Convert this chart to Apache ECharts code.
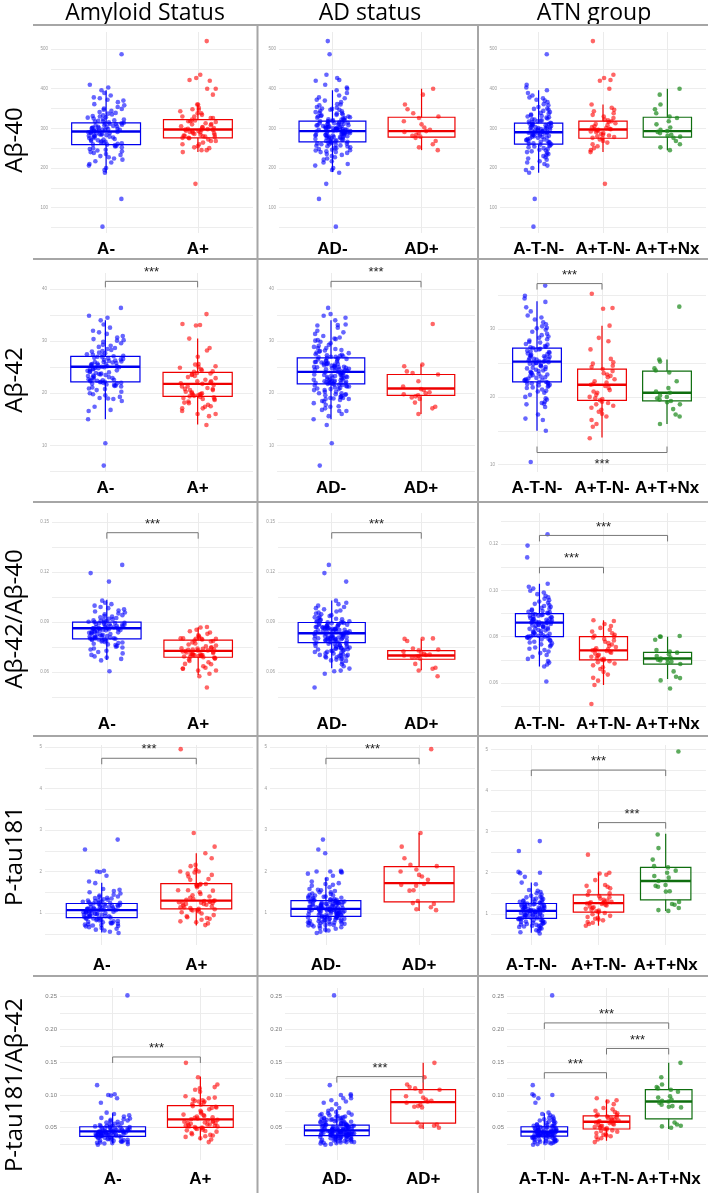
<!DOCTYPE html>
<html><head><meta charset="utf-8">
<script src="https://cdn.jsdelivr.net/npm/echarts@6/dist/echarts.min.js"></script>
<style>html,body{margin:0;padding:0;background:#fff}#c{width:708px;height:1193px}</style>
</head><body><div id="c"></div>
<script>
// ================= DATA =================
const columnTitles = ['Amyloid Status', 'AD status', 'ATN group'];
const rowTitles = ['Aβ-40', 'Aβ-42', 'Aβ-42/Aβ-40', 'P-tau181', 'P-tau181/Aβ-42'];
const amyloidCats = ['A-', 'A+'];
const adCats = ['AD-', 'AD+'];
const atnCats = ['A-T-N-', 'A+T-N-', 'A+T+Nx'];

// ---- Aβ-40 values per ATN group ----
const ab40_ATNneg = [487, 410, 403, 396, 389, 383, 378, 376, 372, 370, 366, 361, 358, 354, 350, 349, 347, 344, 341, 339, 337, 335, 333, 331, 330, 328, 327, 325, 323, 322, 320, 319, 318, 317, 315, 314, 313, 312, 311, 311, 309, 308, 307, 306, 305, 304, 303, 302, 301, 301, 300, 299, 298, 297, 296, 296, 295, 294, 293, 292, 292, 291, 290, 289, 289, 288, 287, 286, 285, 284, 283, 282, 281, 280, 279, 278, 277, 276, 275, 273, 272, 271, 270, 268, 267, 266, 265, 264, 262, 261, 260, 259, 257, 256, 254, 252, 250, 248, 246, 244, 242, 240, 238, 235, 233, 230, 227, 224, 221, 217, 214, 210, 206, 200, 195, 188, 122, 52];
const ab40_ApTnNn = [520, 435, 427, 422, 420, 400, 360, 352, 347, 343, 338, 334, 330, 326, 322, 320, 318, 316, 313, 311, 308, 305, 303, 301, 299, 298, 297, 296, 294, 292, 290, 288, 286, 284, 282, 280, 278, 276, 275, 272, 268, 264, 260, 255, 250, 245, 240, 160];
const ab40_ApTpNx = [400, 385, 360, 348, 338, 330, 326, 318, 310, 302, 296, 293, 291, 288, 284, 281, 279, 276, 268, 260, 252, 245];
const ab40_other = [];

// ---- Aβ-42 ----
const ab42_ATNneg = [36.4, 34.9, 34.5, 34.0, 33.2, 32.6, 32.0, 31.7, 31.4, 31.0, 30.7, 30.4, 30.2, 30.1, 29.9, 29.6, 29.3, 29.1, 28.9, 28.7, 28.5, 28.3, 28.1, 28.0, 27.8, 27.7, 27.5, 27.4, 27.3, 27.2, 27.1, 27.0, 26.9, 26.8, 26.7, 26.6, 26.5, 26.4, 26.3, 26.2, 26.1, 26.0, 26.0, 25.9, 25.8, 25.7, 25.6, 25.6, 25.5, 25.4, 25.3, 25.2, 25.2, 25.1, 25.0, 25.0, 24.9, 24.8, 24.7, 24.6, 24.5, 24.4, 24.3, 24.2, 24.1, 24.0, 23.9, 23.8, 23.7, 23.6, 23.5, 23.4, 23.3, 23.2, 23.1, 23.0, 22.9, 22.8, 22.7, 22.6, 22.5, 22.5, 22.4, 22.3, 22.2, 22.2, 22.1, 22.0, 22.0, 21.9, 21.8, 21.7, 21.6, 21.5, 21.4, 21.3, 21.1, 20.9, 20.8, 20.6, 20.3, 20.0, 19.8, 19.6, 19.3, 19.1, 19.0, 18.9, 18.5, 17.4, 16.8, 16.6, 15.0, 10.4];
const ab42_ApTnNn = [35.2, 33.1, 33.0, 30.5, 28.7, 28.2, 27.0, 25.6, 25.1, 24.9, 24.6, 24.4, 24.1, 23.8, 23.5, 23.3, 23.1, 22.9, 22.6, 22.3, 22.1, 21.9, 21.8, 21.6, 21.3, 21.0, 20.8, 20.6, 20.3, 20.0, 19.8, 19.7, 19.5, 19.3, 19.1, 18.9, 18.7, 18.4, 18.1, 17.8, 17.5, 17.1, 16.6, 16.0, 15.6, 13.9];
const ab42_ApTpNx = [33.3, 25.5, 25.2, 24.2, 23.9, 23.6, 22.3, 21.3, 20.8, 20.6, 20.2, 20.0, 19.8, 19.6, 19.4, 19.2, 18.9, 18.2, 17.4, 17.1, 16.0];
const ab42_other = [6.1];

// ---- Aβ-42/Aβ-40 ----
const ratio_ATNneg = [0.1243, 0.1194, 0.1143, 0.1029, 0.1016, 0.1008, 0.0999, 0.0991, 0.0984, 0.0977, 0.0970, 0.0964, 0.0958, 0.0952, 0.0947, 0.0942, 0.0937, 0.0933, 0.0929, 0.0925, 0.0921, 0.0917, 0.0914, 0.0911, 0.0908, 0.0905, 0.0903, 0.0901, 0.0899, 0.0897, 0.0895, 0.0893, 0.0891, 0.0889, 0.0887, 0.0885, 0.0883, 0.0881, 0.0879, 0.0877, 0.0875, 0.0873, 0.0871, 0.0869, 0.0867, 0.0865, 0.0864, 0.0863, 0.0862, 0.0861, 0.0860, 0.0858, 0.0857, 0.0855, 0.0853, 0.0851, 0.0849, 0.0847, 0.0845, 0.0843, 0.0841, 0.0839, 0.0836, 0.0834, 0.0832, 0.0829, 0.0827, 0.0824, 0.0822, 0.0819, 0.0817, 0.0814, 0.0812, 0.0810, 0.0808, 0.0806, 0.0804, 0.0803, 0.0802, 0.0801, 0.0800, 0.0798, 0.0796, 0.0793, 0.0791, 0.0788, 0.0785, 0.0782, 0.0778, 0.0775, 0.0771, 0.0767, 0.0763, 0.0758, 0.0753, 0.0748, 0.0742, 0.0736, 0.0729, 0.0721, 0.0713, 0.0704, 0.0695, 0.0688, 0.0680, 0.0671, 0.0606];
const ratio_ApTnNn = [0.0871, 0.0868, 0.0855, 0.0846, 0.0838, 0.0830, 0.0822, 0.0815, 0.0808, 0.0804, 0.0800, 0.0796, 0.0790, 0.0784, 0.0778, 0.0772, 0.0766, 0.0760, 0.0755, 0.0750, 0.0746, 0.0743, 0.0741, 0.0738, 0.0735, 0.0731, 0.0727, 0.0722, 0.0718, 0.0713, 0.0708, 0.0704, 0.0701, 0.0698, 0.0694, 0.0690, 0.0684, 0.0676, 0.0668, 0.0660, 0.0648, 0.0636, 0.0622, 0.0610, 0.0591, 0.0509];
const ratio_ApTpNx = [0.0803, 0.0801, 0.0800, 0.0787, 0.0742, 0.0736, 0.0731, 0.0724, 0.0716, 0.0710, 0.0706, 0.0703, 0.0700, 0.0697, 0.0692, 0.0688, 0.0682, 0.0650, 0.0627, 0.0621, 0.0611, 0.0576];
const ratio_other = [];

// ---- P-tau181 ----
const ptau_ATNneg = [2.77, 2.53, 2.02, 2.00, 1.99, 1.90, 1.76, 1.72, 1.58, 1.56, 1.53, 1.50, 1.47, 1.44, 1.42, 1.40, 1.39, 1.37, 1.36, 1.35, 1.33, 1.32, 1.31, 1.30, 1.29, 1.28, 1.27, 1.26, 1.25, 1.25, 1.24, 1.23, 1.22, 1.22, 1.21, 1.20, 1.19, 1.18, 1.18, 1.17, 1.16, 1.15, 1.15, 1.14, 1.13, 1.12, 1.12, 1.11, 1.10, 1.10, 1.09, 1.09, 1.08, 1.08, 1.07, 1.07, 1.06, 1.06, 1.05, 1.04, 1.04, 1.03, 1.02, 1.02, 1.01, 1.00, 0.99, 0.99, 0.98, 0.97, 0.96, 0.96, 0.95, 0.94, 0.93, 0.92, 0.92, 0.91, 0.90, 0.89, 0.89, 0.88, 0.87, 0.86, 0.85, 0.84, 0.83, 0.82, 0.81, 0.80, 0.79, 0.78, 0.77, 0.76, 0.75, 0.74, 0.73, 0.72, 0.71, 0.70, 0.69, 0.68, 0.66, 0.64, 0.62, 0.60, 0.58, 0.55, 0.52];
const ptau_ApTnNn = [2.44, 2.00, 1.98, 1.95, 1.82, 1.70, 1.68, 1.66, 1.62, 1.55, 1.50, 1.46, 1.43, 1.40, 1.37, 1.34, 1.32, 1.30, 1.29, 1.28, 1.27, 1.26, 1.25, 1.24, 1.22, 1.20, 1.18, 1.16, 1.14, 1.12, 1.10, 1.08, 1.06, 1.04, 1.02, 0.99, 0.95, 0.92, 0.90, 0.88, 0.86, 0.84, 0.80, 0.78, 0.75, 0.71];
const ptau_ApTpNx = [4.95, 2.93, 2.60, 2.32, 2.16, 2.13, 2.05, 2.00, 1.92, 1.88, 1.80, 1.70, 1.68, 1.66, 1.55, 1.54, 1.29, 1.24, 1.22, 1.14, 1.09, 1.07];
const ptau_other = [];

// ---- P-tau181/Aβ-42 ----
const pr_ATNneg = [0.252, 0.115, 0.101, 0.100, 0.099, 0.095, 0.088, 0.073, 0.071, 0.069, 0.067, 0.065, 0.064, 0.063, 0.062, 0.061, 0.060, 0.059, 0.058, 0.057, 0.056, 0.055, 0.055, 0.054, 0.053, 0.053, 0.052, 0.052, 0.0515, 0.051, 0.0505, 0.050, 0.0495, 0.049, 0.0485, 0.048, 0.0478, 0.0475, 0.047, 0.0465, 0.046, 0.0458, 0.0455, 0.045, 0.0448, 0.0445, 0.0442, 0.044, 0.044, 0.0438, 0.0435, 0.0432, 0.043, 0.0428, 0.0425, 0.0422, 0.042, 0.0418, 0.0415, 0.0412, 0.041, 0.0408, 0.0405, 0.0402, 0.040, 0.0398, 0.0395, 0.0392, 0.039, 0.0388, 0.0385, 0.0382, 0.038, 0.0378, 0.0375, 0.0372, 0.037, 0.0368, 0.0365, 0.036, 0.0355, 0.035, 0.0345, 0.034, 0.0335, 0.033, 0.0325, 0.032, 0.0315, 0.031, 0.0305, 0.030, 0.0295, 0.029, 0.0285, 0.028, 0.0275, 0.027, 0.0265, 0.026, 0.025, 0.024];
const pr_ApTnNn = [0.095, 0.092, 0.090, 0.086, 0.080, 0.078, 0.076, 0.074, 0.072, 0.070, 0.069, 0.068, 0.067, 0.066, 0.065, 0.064, 0.063, 0.062, 0.061, 0.060, 0.059, 0.059, 0.058, 0.057, 0.056, 0.055, 0.054, 0.053, 0.052, 0.051, 0.050, 0.049, 0.048, 0.047, 0.046, 0.045, 0.044, 0.042, 0.040, 0.039, 0.038, 0.037, 0.036, 0.034, 0.032, 0.028];
const pr_ApTpNx = [0.149, 0.127, 0.116, 0.112, 0.110, 0.108, 0.105, 0.098, 0.096, 0.093, 0.091, 0.090, 0.088, 0.085, 0.083, 0.082, 0.081, 0.058, 0.055, 0.053, 0.052, 0.050];
const pr_other = [];

// ---- box statistics [lower whisker, Q1, median, Q3, upper whisker] ----
const box_ab40_amyloid = [[188, 259, 292, 314, 396], [240, 276, 297, 322, 360]];
const box_ab40_ad      = [[190, 266, 293, 318, 396], [245, 278, 293, 328, 400]];
const box_ab40_atn     = [[188, 260, 290, 313, 396], [240, 275, 297, 318, 360], [245, 278, 293, 328, 400]];
const box_ab42_amyloid = [[15.0, 22.2, 25.1, 27.1, 34.0], [14.0, 19.4, 21.8, 24.0, 30.5]];
const box_ab42_ad      = [[15.0, 21.8, 24.1, 26.8, 34.0], [16.0, 19.6, 20.9, 23.6, 25.5]];
const box_ab42_atn     = [[15.0, 22.2, 25.2, 27.2, 34.1], [14.0, 19.5, 21.8, 24.1, 30.5], [16.0, 19.4, 20.6, 23.8, 25.5]];
const box_ratio_amyloid = [[0.0674, 0.080, 0.0864, 0.090, 0.1034], [0.0584, 0.069, 0.0728, 0.0792, 0.087]];
const box_ratio_ad      = [[0.0624, 0.0777, 0.0834, 0.0898, 0.103], [0.0612, 0.0678, 0.070, 0.073, 0.0798]];
const box_ratio_atn     = [[0.0671, 0.080, 0.0861, 0.090, 0.1029], [0.0591, 0.070, 0.0741, 0.080, 0.0871], [0.0617, 0.0681, 0.0706, 0.0732, 0.080]];
const box_ptau_amyloid = [[0.53, 0.89, 1.07, 1.23, 1.73], [0.70, 1.10, 1.30, 1.71, 2.44]];
const box_ptau_ad      = [[0.53, 0.92, 1.10, 1.30, 1.85], [1.05, 1.27, 1.72, 2.12, 2.93]];
const box_ptau_atn     = [[0.54, 0.89, 1.07, 1.25, 1.76], [0.71, 1.04, 1.26, 1.46, 2.00], [1.07, 1.34, 1.80, 2.13, 2.95]];
const box_pr_amyloid = [[0.026, 0.0367, 0.0444, 0.0515, 0.072], [0.031, 0.0505, 0.0628, 0.0837, 0.128]];
const box_pr_ad      = [[0.026, 0.038, 0.046, 0.054, 0.078], [0.048, 0.057, 0.089, 0.108, 0.149]];
const box_pr_atn     = [[0.026, 0.037, 0.044, 0.0515, 0.072], [0.030, 0.048, 0.059, 0.068, 0.093], [0.048, 0.0635, 0.090, 0.108, 0.149]];

// ---- significance brackets [from group, to group, y level, side(1 above / -1 below)] ----
const sig_ab40_amyloid = [], sig_ab40_ad = [], sig_ab40_atn = [];
const sig_ab42_amyloid = [[0, 1, 41.5, 1]];
const sig_ab42_ad      = [[0, 1, 41.5, 1]];
const sig_ab42_atn     = [[0, 1, 36.7, 1], [0, 2, 11.8, -1]];
const sig_ratio_amyloid = [[0, 1, 0.1436, 1]];
const sig_ratio_ad      = [[0, 1, 0.1436, 1]];
const sig_ratio_atn     = [[0, 2, 0.1238, 1], [0, 1, 0.110, 1]];
const sig_ptau_amyloid = [[0, 1, 4.73, 1]];
const sig_ptau_ad      = [[0, 1, 4.73, 1]];
const sig_ptau_atn     = [[0, 2, 4.5, 1], [1, 2, 3.22, 1]];
const sig_pr_amyloid = [[0, 1, 0.158, 1]];
const sig_pr_ad      = [[0, 1, 0.128, 1]];
const sig_pr_atn     = [[0, 2, 0.21, 1], [1, 2, 0.171, 1], [0, 1, 0.134, 1]];

// ---- y-axis ranges and tick labels ----
const yRange_ab40 = [[36, 543], [36, 543], [36, 543]];
const yRange_ab42 = [[4.87, 43.1], [4.87, 43.1], [8.93, 38.26]];
const yRange_ratio = [[0.0356, 0.1554], [0.0356, 0.1554], [0.047, 0.1335]];
const yRange_ptau = [[0.23, 5.05], [0.23, 5.05], [0.24, 5.11]];
const yRange_pr = [[0.0007, 0.2633], [0.0007, 0.2633], [0.0007, 0.2633]];

const ticks_ab40 = [100, 200, 300, 400, 500], minor_ab40 = [50, 150, 250, 350, 450];
const ticks_ab42 = [10, 20, 30, 40], minor_ab42 = [5, 15, 25, 35];
const ticks_ab42_atn = [10, 20, 30], minor_ab42_atn = [15, 25, 35];
const ticks_ratio = [0.06, 0.09, 0.12, 0.15], minor_ratio = [0.045, 0.075, 0.105, 0.135];
const ticks_ratio_atn = [0.06, 0.08, 0.10, 0.12], minor_ratio_atn = [0.05, 0.07, 0.09, 0.11, 0.13];
const ticks_ptau = [1, 2, 3, 4, 5], minor_ptau = [0.5, 1.5, 2.5, 3.5, 4.5];
const ticks_pr = [0.05, 0.10, 0.15, 0.20, 0.25], minor_pr = [0.025, 0.075, 0.125, 0.175, 0.225];

// ================= LAYOUT / STYLE =================
const BOX_COLORS = ['#0000ee', '#ee0000', '#0f6e0f'];
const PT_COLORS = ['#0000ff', '#ff0000', '#1f8a1f'];
const colRight = [253, 475, 706];
const rowTop = [32, 273, 513, 745, 988];
const rowBottom = [233, 472, 713, 945, 1160];
const plotLeft = [[51, 279, 500], [50, 277, 498], [52, 278, 501], [45, 270, 491], [60, 285, 507]];
const xLabelMargin = [8, 8, 3, 12, 11];
const tickFont = [4.5, 4.5, 4.5, 4.5, 6];
const tickDecimals = [0, 0, 2, 0, 2];
const headerX = [145, 370, 594];
const rowLabelY = [140, 380, 619, 856, 1085];
const hLines = [25, 259, 502, 736, 976];
const vLines = [257.5, 478];

function unionGroups(a, b, c, other) {
  return [
    [a.concat(other), b.concat(c)],
    [a.concat(b, other), c],
    [a, b, c]
  ];
}
const rows = [
  { g: unionGroups(ab40_ATNneg, ab40_ApTnNn, ab40_ApTpNx, ab40_other), box: [box_ab40_amyloid, box_ab40_ad, box_ab40_atn], sig: [sig_ab40_amyloid, sig_ab40_ad, sig_ab40_atn], yr: yRange_ab40, ticks: [ticks_ab40, ticks_ab40, ticks_ab40], minor: [minor_ab40, minor_ab40, minor_ab40] },
  { g: unionGroups(ab42_ATNneg, ab42_ApTnNn, ab42_ApTpNx, ab42_other), box: [box_ab42_amyloid, box_ab42_ad, box_ab42_atn], sig: [sig_ab42_amyloid, sig_ab42_ad, sig_ab42_atn], yr: yRange_ab42, ticks: [ticks_ab42, ticks_ab42, ticks_ab42_atn], minor: [minor_ab42, minor_ab42, minor_ab42_atn] },
  { g: unionGroups(ratio_ATNneg, ratio_ApTnNn, ratio_ApTpNx, ratio_other), box: [box_ratio_amyloid, box_ratio_ad, box_ratio_atn], sig: [sig_ratio_amyloid, sig_ratio_ad, sig_ratio_atn], yr: yRange_ratio, ticks: [ticks_ratio, ticks_ratio, ticks_ratio_atn], minor: [minor_ratio, minor_ratio, minor_ratio_atn] },
  { g: unionGroups(ptau_ATNneg, ptau_ApTnNn, ptau_ApTpNx, ptau_other), box: [box_ptau_amyloid, box_ptau_ad, box_ptau_atn], sig: [sig_ptau_amyloid, sig_ptau_ad, sig_ptau_atn], yr: yRange_ptau, ticks: [ticks_ptau, ticks_ptau, ticks_ptau], minor: [minor_ptau, minor_ptau, minor_ptau] },
  { g: unionGroups(pr_ATNneg, pr_ApTnNn, pr_ApTpNx, pr_other), box: [box_pr_amyloid, box_pr_ad, box_pr_atn], sig: [sig_pr_amyloid, sig_pr_ad, sig_pr_atn], yr: yRange_pr, ticks: [ticks_pr, ticks_pr, ticks_pr], minor: [minor_pr, minor_pr, minor_pr] }
];
const catsByCol = [amyloidCats, adCats, atnCats];

// horizontal jitter (layout only, deterministic)
function jitter(i, g) {
  const s = Math.sin((i + 1) * 12.9898 + g * 78.233) * 43758.5453;
  return (s - Math.floor(s) - 0.5) * 0.4;
}

function renderBox(params, api) {
  const x = api.value(0);
  const c = BOX_COLORS[api.value(6)];
  const w = api.size([0.75, 0])[0];
  const px = api.coord([x, api.value(3)])[0];
  const yy = [1, 2, 3, 4, 5].map(k => api.coord([x, api.value(k)])[1]);
  const l = px - w / 2, r = px + w / 2;
  return { type: 'group', children: [
    { type: 'line', shape: { x1: px, y1: yy[0], x2: px, y2: yy[1] }, style: { stroke: c, lineWidth: 1.2 } },
    { type: 'line', shape: { x1: px, y1: yy[3], x2: px, y2: yy[4] }, style: { stroke: c, lineWidth: 1.2 } },
    { type: 'rect', shape: { x: l, y: yy[3], width: w, height: yy[1] - yy[3] }, style: { stroke: c, lineWidth: 1.2, fill: 'rgba(255,255,255,0)' } },
    { type: 'line', shape: { x1: l, y1: yy[2], x2: r, y2: yy[2] }, style: { stroke: c, lineWidth: 2.4 } }
  ] };
}

function renderBracket(params, api) {
  const x1 = api.value(0), x2 = api.value(1), y = api.value(2), dir = api.value(3);
  const p1 = api.coord([x1, y]), p2 = api.coord([x2, y]);
  const t = 6 * dir;
  return { type: 'group', children: [
    { type: 'polyline', shape: { points: [[p1[0], p1[1] + t], [p1[0], p1[1]], [p2[0], p2[1]], [p2[0], p2[1] + t]] }, style: { stroke: '#777', lineWidth: 1, fill: null } },
    { type: 'text', x: (p1[0] + p2[0]) / 2, y: dir > 0 ? p1[1] - 2 : p1[1] + 5,
      style: { text: '***', align: 'center', verticalAlign: dir > 0 ? 'bottom' : 'top', font: '13px "Liberation Sans", Arial, sans-serif', fill: '#222' } }
  ] };
}

const grid = [], xAxis = [], yAxis = [], series = [];
rows.forEach((row, r) => {
  for (let c = 0; c < 3; c++) {
    const p = r * 3 + c;
    const cats = catsByCol[c];
    const n = cats.length;
    grid.push({ left: plotLeft[r][c], width: colRight[c] - plotLeft[r][c], top: rowTop[r], height: rowBottom[r] - rowTop[r] });
    const idx = cats.map((_, i) => i);
    xAxis.push({
      type: 'value', gridIndex: p, min: -0.6, max: n - 0.4,
      axisLine: { show: false },
      axisTick: { show: false, customValues: idx },
      axisLabel: { customValues: idx, formatter: v => cats[Math.round(v)], fontSize: 17, fontWeight: 'bold', color: '#000', fontFamily: '"Liberation Sans", Arial, sans-serif', margin: xLabelMargin[r] },
      splitLine: { show: true, lineStyle: { color: '#ebebeb', width: 1 } }
    });
    const dec = tickDecimals[r];
    yAxis.push({
      type: 'value', gridIndex: p, min: row.yr[c][0], max: row.yr[c][1],
      axisLine: { show: false },
      axisTick: { show: false, customValues: row.ticks[c].concat(row.minor[c]).sort((a, b) => a - b) },
      axisLabel: { customValues: row.ticks[c], formatter: v => v.toFixed(dec), fontSize: tickFont[r], color: r === 4 ? '#777' : '#999', margin: 3, fontFamily: '"Liberation Sans", Arial, sans-serif' },
      splitLine: { show: true, lineStyle: { color: '#ededed', width: 1 } }
    });
    series.push({
      type: 'custom', xAxisIndex: p, yAxisIndex: p, renderItem: renderBox, z: 2, silent: true,
      data: row.box[c].map((b, g) => [g, b[0], b[1], b[2], b[3], b[4], g])
    });
    row.g[c].forEach((vals, g) => {
      series.push({
        type: 'scatter', xAxisIndex: p, yAxisIndex: p, z: 3, silent: true,
        symbolSize: 4.6,
        itemStyle: { color: PT_COLORS[g], opacity: g === 2 ? 0.72 : 0.6 },
        data: vals.map((v, i) => [g + jitter(i, g + c * 3), v])
      });
    });
    if (row.sig[c].length) {
      series.push({ type: 'custom', xAxisIndex: p, yAxisIndex: p, renderItem: renderBracket, z: 4, silent: true, clip: false, data: row.sig[c] });
    }
  }
});

const graphic = [];
columnTitles.forEach((t, i) => graphic.push({ type: 'text', x: headerX[i], y: 13, style: { text: t, font: '23px "Open Sans", "Noto Sans", sans-serif', fill: '#000', align: 'center', verticalAlign: 'middle' } }));
rowTitles.forEach((t, i) => graphic.push({ type: 'text', x: 15, y: rowLabelY[i], rotation: Math.PI / 2, style: { text: t, font: '24px "Open Sans", "Noto Sans", sans-serif', fill: '#000', align: 'center', verticalAlign: 'middle' } }));
hLines.forEach(y => graphic.push({ type: 'line', shape: { x1: 33, y1: y, x2: 708, y2: y }, style: { stroke: '#a6a6a6', lineWidth: 2 } }));
vLines.forEach(x => graphic.push({ type: 'line', shape: { x1: x, y1: 25, x2: x, y2: 1193 }, style: { stroke: '#a6a6a6', lineWidth: 2 } }));

const chart = echarts.init(document.getElementById('c'), null, { renderer: 'canvas' });
chart.setOption({ animation: false, backgroundColor: '#fff', grid, xAxis, yAxis, series, graphic });
</script></body></html>
